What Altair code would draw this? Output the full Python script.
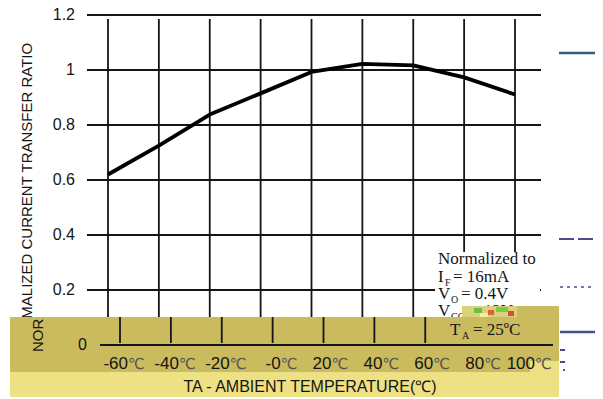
import altair as alt
import pandas as pd

# ---- data ----
temps = [-60, -40, -20, 0, 20, 40, 60, 80, 100]
ratio = [0.62, 0.725, 0.838, 0.915, 0.993, 1.022, 1.017, 0.973, 0.911]
grid_y = [0.2, 0.4, 0.6, 0.8, 1.0, 1.2]
grid_y_labels = ["0.2", "0.4", "0.6", "0.8", "1", "1.2"]
x_tick_numbers = ["-60", "-40", "-20", "-0", "20", "40", "60", "80", "100"]
x_tick_unit = "℃"
band_ticks = [-60, -40, -20, 0, 20, 40, 60]
y_title = "NORMALIZED CURRENT TRANSFER RATIO"
x_title = "TA - AMBIENT TEMPERATURE(℃)"

# ---- tables ----
line_df = pd.DataFrame({"t": temps, "r": ratio})
hgrid_df = pd.DataFrame({"y": grid_y, "lab": grid_y_labels})
vgrid_df = pd.DataFrame({"t": temps})
xlab_df = pd.DataFrame({"t": temps, "lab": x_tick_numbers})
band_df = pd.DataFrame({"t": band_ticks})
zero_df = pd.DataFrame({"y": [0.0], "lab": ["0"]})
one = pd.DataFrame({"k": [0]})

xs = alt.Scale(domain=[-60, 100], range=[100, 507])
ys = alt.Scale(domain=[0, 1.2], range=[337, 7])
X = lambda f: alt.X(f, type="quantitative", scale=xs, axis=None)
Y = lambda f: alt.Y(f, type="quantitative", scale=ys, axis=None)

SANS = "Liberation Sans"
SERIF = "Liberation Serif"
INK = "#151515"
DARK_BAND = "#C9BB5E"
LIGHT_BAND = "#EDE183"
BLUE = "#4A4C8C"
GW = 1.8

layers = []

# grid
layers.append(alt.Chart(hgrid_df).mark_rule(color=INK, strokeWidth=GW).encode(
    y=Y("y"), x=alt.value(79), x2=alt.value(533)))
layers.append(alt.Chart(vgrid_df).mark_rule(color=INK, strokeWidth=GW).encode(
    x=X("t"), y=alt.value(11), y2=alt.value(309)))
# y tick labels
layers.append(alt.Chart(hgrid_df).mark_text(font=SANS, fontSize=16, color=INK, align="right", baseline="middle").encode(
    y=Y("y"), x=alt.value(67), text="lab:N"))
# y title (full)
layers.append(alt.Chart(one).mark_text(font=SANS, fontSize=15, color=INK, angle=270, align="left",
                                       baseline="middle", text=y_title).encode(
    x=alt.value(19), y=alt.value(344)))
# data line
layers.append(alt.Chart(line_df).mark_line(color="#000000", strokeWidth=3.8, strokeJoin="round").encode(
    x=X("t"), y=Y("r")))

# annotation box
layers.append(alt.Chart(one).mark_rect(color="white").encode(
    x=alt.value(427), x2=alt.value(532), y=alt.value(244), y2=alt.value(309)))

def txt(s, x, y, size=17, font=SERIF, color=INK, align="left", baseline="alphabetic"):
    return alt.Chart(one).mark_text(text=s, font=font, fontSize=size, color=color,
                                    align=align, baseline=baseline).encode(
        x=alt.value(x), y=alt.value(y))

layers += [
    txt("Normalized to", 430, 256),
    txt("I", 430, 274), txt("F", 437, 278, size=10), txt("= 16mA", 445, 274),
    txt("V", 430, 291), txt("O", 443, 295, size=10), txt("= 0.4V", 453, 291),
    txt("V", 430, 308), txt("CC", 443, 312, size=10), txt("= 12V", 462, 308),
]

# pasted bands
layers.append(alt.Chart(one).mark_rect(color=DARK_BAND).encode(
    x=alt.value(2), x2=alt.value(551), y=alt.value(309), y2=alt.value(365)))
layers.append(alt.Chart(one).mark_rect(color=DARK_BAND).encode(
    x=alt.value(454), x2=alt.value(551), y=alt.value(298), y2=alt.value(310)))
layers.append(alt.Chart(one).mark_rect(color=LIGHT_BAND).encode(
    x=alt.value(2), x2=alt.value(551), y=alt.value(364), y2=alt.value(389)))
layers.append(alt.Chart(one).mark_rect(color=LIGHT_BAND).encode(
    x=alt.value(522), x2=alt.value(551), y=alt.value(353), y2=alt.value(365)))
# glitch patch
for (x1, x2, y1, y2, c) in [(454, 509, 298, 309, "#D9D27A"), (466, 474, 300, 305, "#6DBF3E"),
                            (480, 486, 302, 307, "#E0603A"), (488, 500, 299, 304, "#7CCB46"),
                            (500, 506, 303, 308, "#D84A3A"), (472, 480, 305, 309, "#F2EFA0")]:
    layers.append(alt.Chart(one).mark_rect(color=c).encode(
        x=alt.value(x1), x2=alt.value(x2), y=alt.value(y1), y2=alt.value(y2)))

# band ticks and zero line (shifted copy of the axis)
layers.append(alt.Chart(band_df).mark_rule(color=INK, strokeWidth=GW, xOffset=12).encode(
    x=X("t"), y=alt.value(309), y2=alt.value(335)))
layers.append(alt.Chart(zero_df).mark_rule(color=INK, strokeWidth=GW).encode(
    y=Y("y"), x=alt.value(92), x2=alt.value(545)))
layers.append(alt.Chart(zero_df).mark_text(font=SANS, fontSize=16, color=INK, align="right", baseline="middle").encode(
    y=Y("y"), x=alt.value(79), text="lab:N"))
# x tick labels: number dark, unit light
layers.append(alt.Chart(xlab_df).mark_text(font=SANS, fontSize=17, color=INK, align="right",
                                           baseline="middle", xOffset=20).encode(
    x=X("t"), y=alt.value(356), text="lab:N"))
layers.append(alt.Chart(xlab_df).mark_text(font="DejaVu Sans", fontSize=15, color="#555555", align="left",
                                           baseline="middle", xOffset=20, text=x_tick_unit).encode(
    x=X("t"), y=alt.value(356)))
# x title
layers.append(txt(x_title, 302, 379, size=16, font=SANS, align="center", baseline="middle"))
# y title fragment in band
layers.append(alt.Chart(one).mark_text(font=SANS, fontSize=15, color=INK, angle=270, align="left",
                                       baseline="middle", text="NOR").encode(
    x=alt.value(30), y=alt.value(344)))
# T_A line
layers += [txt("T", 442, 327), txt("A", 454, 331, size=10), txt("= 25ºC", 465, 327)]

# leftover legend strokes at the right
def seg(x1, x2, y, w=2.2, dash=None, color=BLUE):
    kw = dict(color=color, strokeWidth=w)
    if dash:
        kw["strokeDash"] = dash
    return alt.Chart(one).mark_rule(**kw).encode(x=alt.value(x1), x2=alt.value(x2), y=alt.value(y))

layers += [
    seg(551, 587, 45, color="#2F5C86", w=2.4),
    seg(551, 587, 231, dash=[15, 4], w=2),
    seg(552, 587, 279, dash=[3, 4], w=1.6),
    seg(552, 587, 324, w=2.4),
    seg(552, 557, 342, w=2), seg(552, 557, 354, w=2), seg(555, 557, 362, w=2),
]

chart = alt.layer(*layers).properties(
    width=587, height=391, autosize=alt.AutoSizeParams(type="none"), padding=0,
    background="white"
).configure_view(strokeWidth=0)

chart.save("out.html", embed_options={"renderer": "svg", "actions": False})
